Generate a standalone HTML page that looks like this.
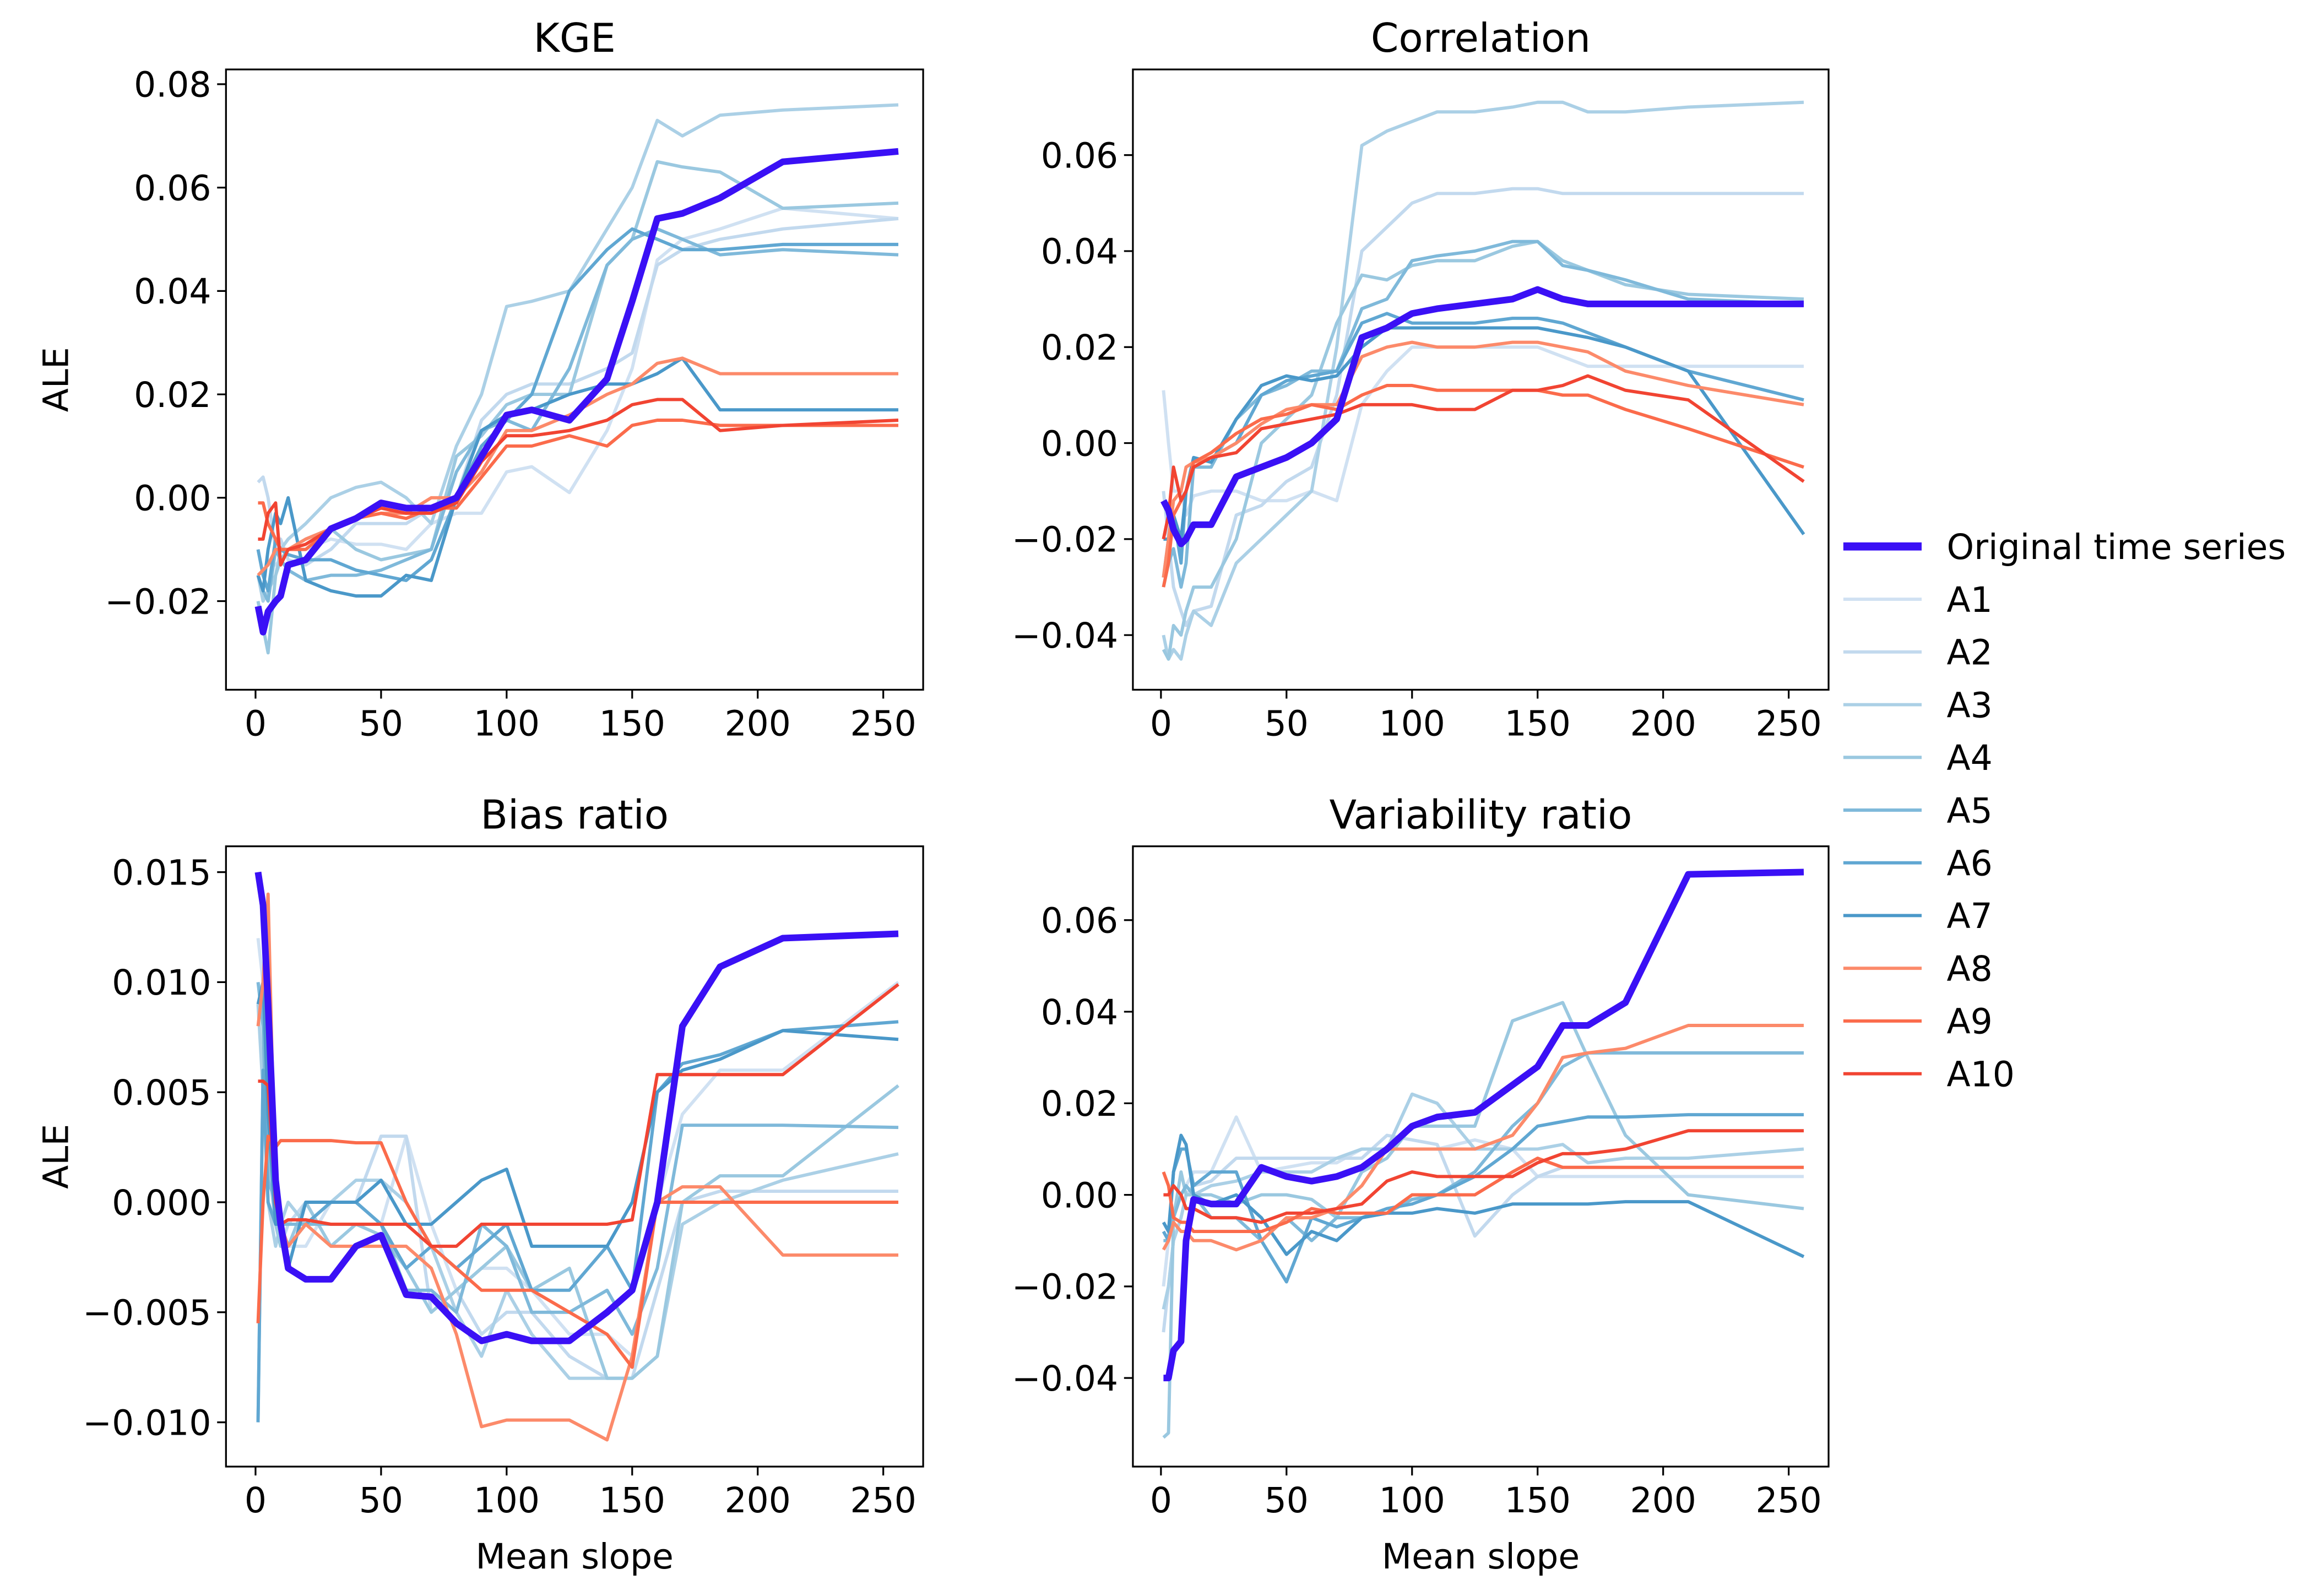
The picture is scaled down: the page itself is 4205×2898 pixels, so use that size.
<!DOCTYPE html>
<html><head><meta charset="utf-8"><style>
html,body{margin:0;padding:0;background:#fff}
svg{display:block}
text{font-family:"DejaVu Sans","Liberation Sans",sans-serif;fill:#000}
</style></head><body>
<svg id="fig" width="4205" height="2898" viewBox="0 0 1568 1080.6" xmlns="http://www.w3.org/2000/svg"></svg>
<script>
const xVals=[1,3,5,8,10,13,20,30,40,50,60,70,80,90,100,110,125,140,150,160,170,185,210,256];
const seriesNames=["A1","A2","A3","A4","A5","A6","A7","A8","A9","A10","Original time series"];
const seriesColors=["#d0e1f2","#c2d9ee","#abd0e6","#9ac8e0","#7fb9da","#60a7d2","#4a98c9","#fc8a6a","#fb6b4b","#f14432","#3a10f5"];
const kgeA1=[-0.01,-0.015,-0.012,-0.013,-0.012,-0.01,-0.01,-0.008,-0.009,-0.009,-0.01,-0.005,-0.003,-0.003,0.005,0.006,0.001,0.013,0.025,0.046,0.05,0.052,0.056,0.054];
const kgeA2=[0.003,0.004,0.0,-0.01,-0.008,-0.012,-0.013,-0.01,-0.005,-0.005,-0.005,-0.002,0.0,0.015,0.02,0.022,0.022,0.025,0.028,0.045,0.048,0.05,0.052,0.054];
const kgeA3=[-0.015,-0.02,-0.018,-0.015,-0.01,-0.008,-0.005,0.0,0.002,0.003,0.0,-0.005,0.01,0.02,0.037,0.038,0.04,0.052,0.06,0.073,0.07,0.074,0.075,0.076];
const kgeA4=[-0.02,-0.025,-0.03,-0.015,-0.012,-0.01,-0.008,-0.006,-0.01,-0.012,-0.011,-0.01,0.008,0.012,0.018,0.02,0.02,0.045,0.05,0.065,0.064,0.063,0.056,0.057];
const kgeA5=[-0.015,-0.018,-0.02,-0.01,-0.012,-0.014,-0.016,-0.015,-0.015,-0.014,-0.012,-0.01,0.005,0.013,0.015,0.013,0.025,0.045,0.05,0.052,0.05,0.047,0.048,0.047];
const kgeA6=[-0.01,-0.015,-0.018,-0.008,-0.01,-0.011,-0.012,-0.012,-0.014,-0.015,-0.016,-0.012,0.0,0.01,0.015,0.02,0.04,0.048,0.052,0.05,0.048,0.048,0.049,0.049];
const kgeA7=[-0.015,-0.018,-0.01,-0.003,-0.005,0.0,-0.016,-0.018,-0.019,-0.019,-0.015,-0.016,0.0,0.013,0.016,0.017,0.02,0.022,0.022,0.024,0.027,0.017,0.017,0.017];
const kgeA8=[-0.015,-0.014,-0.013,-0.01,-0.01,-0.01,-0.008,-0.006,-0.004,-0.003,-0.003,0.0,0.0,0.005,0.013,0.013,0.016,0.02,0.022,0.026,0.027,0.024,0.024,0.024];
const kgeA9=[-0.001,-0.001,-0.005,-0.008,-0.01,-0.01,-0.01,-0.006,-0.004,-0.003,-0.004,-0.002,-0.002,0.004,0.01,0.01,0.012,0.01,0.014,0.015,0.015,0.014,0.014,0.014];
const kgeA10=[-0.008,-0.008,-0.003,-0.001,-0.013,-0.01,-0.009,-0.006,-0.004,-0.002,-0.003,-0.003,-0.001,0.007,0.012,0.012,0.013,0.015,0.018,0.019,0.019,0.013,0.014,0.015];
const kgeOrig=[-0.021,-0.026,-0.022,-0.02,-0.019,-0.013,-0.012,-0.006,-0.004,-0.001,-0.002,-0.002,0.0,0.008,0.016,0.017,0.015,0.023,0.038,0.054,0.055,0.058,0.065,0.067];
const corA1=[0.011,0.0,-0.01,-0.01,-0.015,-0.011,-0.01,-0.01,-0.012,-0.012,-0.01,-0.012,0.008,0.015,0.02,0.02,0.02,0.02,0.02,0.018,0.016,0.016,0.016,0.016];
const corA2=[-0.01,-0.02,-0.03,-0.035,-0.038,-0.035,-0.034,-0.015,-0.013,-0.008,-0.005,0.01,0.04,0.045,0.05,0.052,0.052,0.053,0.053,0.052,0.052,0.052,0.052,0.052];
const corA3=[-0.04,-0.045,-0.043,-0.045,-0.04,-0.035,-0.038,-0.025,-0.02,-0.015,-0.01,0.02,0.062,0.065,0.067,0.069,0.069,0.07,0.071,0.071,0.069,0.069,0.07,0.071];
const corA4=[-0.043,-0.045,-0.038,-0.04,-0.035,-0.03,-0.03,-0.02,0.0,0.005,0.01,0.025,0.035,0.034,0.037,0.038,0.038,0.041,0.042,0.038,0.036,0.033,0.031,0.03];
const corA5=[-0.03,-0.025,-0.022,-0.03,-0.025,-0.005,-0.005,0.005,0.01,0.012,0.015,0.015,0.028,0.03,0.038,0.039,0.04,0.042,0.042,0.037,0.036,0.034,0.03,0.029];
const corA6=[-0.028,-0.02,-0.015,-0.025,-0.01,-0.005,-0.003,0.0,0.01,0.013,0.014,0.015,0.025,0.027,0.025,0.025,0.025,0.026,0.026,0.025,0.023,0.02,0.015,0.009];
const corA7=[-0.02,-0.02,-0.015,-0.02,-0.01,-0.003,-0.004,0.005,0.012,0.014,0.013,0.014,0.02,0.024,0.024,0.024,0.024,0.024,0.024,0.023,0.022,0.02,0.015,-0.019];
const corA8=[-0.028,-0.02,-0.012,-0.01,-0.005,-0.004,-0.003,0.0,0.004,0.007,0.008,0.008,0.018,0.02,0.021,0.02,0.02,0.021,0.021,0.02,0.019,0.015,0.012,0.008];
const corA9=[-0.03,-0.025,-0.015,-0.012,-0.01,-0.004,-0.002,0.002,0.005,0.006,0.008,0.007,0.01,0.012,0.012,0.011,0.011,0.011,0.011,0.01,0.01,0.007,0.003,-0.005];
const corA10=[-0.02,-0.015,-0.005,-0.012,-0.01,-0.005,-0.003,-0.002,0.003,0.004,0.005,0.006,0.008,0.008,0.008,0.007,0.007,0.011,0.011,0.012,0.014,0.011,0.009,-0.008];
const corOrig=[-0.012,-0.014,-0.018,-0.021,-0.02,-0.017,-0.017,-0.007,-0.005,-0.003,0.0,0.005,0.022,0.024,0.027,0.028,0.029,0.030,0.032,0.030,0.029,0.029,0.029,0.029];
const biasA1=[0.012,0.01,0.003,0.0,-0.001,-0.002,-0.002,0.0,0.0,-0.001,0.003,-0.001,-0.004,-0.003,-0.003,-0.004,-0.006,-0.006,-0.007,0.0,0.004,0.006,0.006,0.01];
const biasA2=[0.01,0.009,0.0,-0.001,-0.002,-0.001,0.0,0.0,0.0,0.003,0.003,-0.005,-0.004,-0.006,-0.005,-0.005,-0.007,-0.008,-0.008,-0.004,0.0,0.0005,0.0005,0.0005];
const biasA3=[0.009,0.005,0.0,-0.002,-0.001,0.0,-0.001,0.0,0.001,0.001,0.0,-0.002,-0.005,-0.007,-0.004,-0.006,-0.008,-0.008,-0.008,-0.007,-0.001,0.0,0.001,0.0022];
const biasA4=[-0.01,0.006,0.002,-0.001,-0.002,-0.002,0.0,-0.002,-0.001,-0.0015,-0.003,-0.005,-0.004,-0.003,-0.002,-0.004,-0.003,-0.008,-0.008,-0.007,0.0,0.0012,0.0012,0.0053];
const biasA5=[0.01,0.008,0.001,0.0,-0.001,-0.001,-0.001,-0.001,-0.001,-0.001,-0.004,-0.004,-0.005,-0.001,-0.002,-0.005,-0.005,-0.004,-0.006,-0.003,0.0035,0.0035,0.0035,0.0034];
const biasA6=[-0.01,0.006,0.0,-0.001,-0.001,-0.002,-0.001,0.0,0.0,-0.001,-0.003,-0.002,-0.003,-0.002,-0.001,-0.004,-0.004,-0.002,-0.004,0.005,0.0063,0.0067,0.0078,0.0082];
const biasA7=[0.009,0.01,0.004,-0.001,-0.001,-0.003,0.0,0.0,0.0,0.001,-0.001,-0.001,0.0,0.001,0.0015,-0.002,-0.002,-0.002,0.0,0.005,0.006,0.0065,0.0078,0.0074];
const biasA8=[0.008,0.01,0.014,0.0,-0.001,-0.002,-0.001,-0.002,-0.002,-0.002,-0.002,-0.003,-0.006,-0.0102,-0.0099,-0.0099,-0.0099,-0.0108,-0.007,0.0,0.0007,0.0007,-0.0024,-0.0024];
const biasA9=[-0.0055,0.0,0.003,0.0025,0.0028,0.0028,0.0028,0.0028,0.0027,0.0027,0.0,-0.002,-0.003,-0.004,-0.004,-0.004,-0.005,-0.006,-0.0075,0.0,0.0,0.0,0.0,0.0];
const biasA10=[0.0055,0.0055,0.0053,0.0,-0.001,-0.0008,-0.0008,-0.001,-0.001,-0.001,-0.001,-0.002,-0.002,-0.001,-0.001,-0.001,-0.001,-0.001,-0.0008,0.0058,0.0058,0.0058,0.0058,0.0099];
const biasOrig=[0.015,0.0135,0.009,0.001,-0.001,-0.003,-0.0035,-0.0035,-0.002,-0.0015,-0.0042,-0.0043,-0.0055,-0.0063,-0.006,-0.0063,-0.0063,-0.005,-0.004,0.0,0.008,0.0107,0.012,0.0122];
const varA1=[-0.02,-0.01,-0.005,0.0,0.002,0.005,0.005,0.017,0.005,0.006,0.007,0.007,0.01,0.01,0.01,0.01,0.012,0.01,0.004,0.004,0.004,0.004,0.004,0.004];
const varA2=[-0.03,-0.02,-0.01,-0.005,0.0,0.002,0.003,0.008,0.008,0.008,0.008,0.008,0.008,0.013,0.012,0.011,-0.009,0.0,0.004,0.006,0.006,0.006,0.006,0.006];
const varA3=[-0.025,-0.02,-0.01,-0.005,0.0,0.0,0.002,0.003,0.005,0.005,0.005,0.008,0.01,0.01,0.022,0.02,0.01,0.01,0.01,0.011,0.007,0.008,0.008,0.01];
const varA4=[-0.053,-0.052,-0.005,0.005,0.0,0.0,0.0,-0.002,0.0,0.0,-0.001,-0.005,0.005,0.008,0.015,0.015,0.015,0.038,0.04,0.042,0.03,0.013,0.0,-0.003];
const varA5=[-0.01,-0.01,-0.005,0.0,0.002,0.0,-0.005,-0.005,-0.01,-0.005,-0.01,-0.005,-0.005,-0.004,-0.001,0.0,0.005,0.015,0.02,0.028,0.031,0.031,0.031,0.031];
const varA6=[-0.008,-0.01,0.005,0.01,0.01,0.002,0.005,0.005,-0.01,-0.019,-0.005,-0.007,-0.005,-0.003,-0.002,0.0,0.004,0.01,0.015,0.016,0.017,0.017,0.0175,0.0175];
const varA7=[-0.006,-0.008,0.005,0.013,0.011,0.0,-0.002,0.0,-0.005,-0.013,-0.008,-0.01,-0.005,-0.004,-0.004,-0.003,-0.004,-0.002,-0.002,-0.002,-0.002,-0.0015,-0.0015,-0.0135];
const varA8=[-0.012,-0.01,-0.006,-0.008,-0.008,-0.01,-0.01,-0.012,-0.01,-0.005,-0.005,-0.003,0.002,0.01,0.01,0.01,0.01,0.013,0.02,0.03,0.031,0.032,0.037,0.037];
const varA9=[0.005,0.002,-0.005,-0.006,-0.006,-0.008,-0.008,-0.008,-0.008,-0.006,-0.003,-0.004,-0.004,-0.004,0.0,0.0,0.0,0.005,0.008,0.006,0.006,0.006,0.006,0.006];
const varA10=[0.0,0.0,0.002,0.0,-0.003,-0.003,-0.005,-0.005,-0.006,-0.004,-0.004,-0.003,-0.002,0.003,0.005,0.004,0.004,0.004,0.007,0.009,0.009,0.01,0.014,0.014];
const varOrig=[-0.04,-0.04,-0.034,-0.032,-0.01,-0.001,-0.002,-0.002,0.006,0.004,0.003,0.004,0.006,0.01,0.015,0.017,0.018,0.024,0.028,0.037,0.037,0.042,0.07,0.0705];
const xTicks=[0,50,100,150,200,250];
const kgeTicks=[-0.02,0.00,0.02,0.04,0.06,0.08];
const corTicks=[-0.04,-0.02,0.00,0.02,0.04,0.06];
const biasTicks=[-0.010,-0.005,0.000,0.005,0.010,0.015];
const varTicks=[-0.04,-0.02,0.00,0.02,0.04,0.06];

const NS="http://www.w3.org/2000/svg";
const svg=document.getElementById('fig');
function mk(tag,attrs,parent){const e=document.createElementNS(NS,tag);for(const k in attrs)e.setAttribute(k,attrs[k]);(parent||svg).appendChild(e);return e;}
function fmt(v,d){const s=Math.abs(v).toFixed(d);return (v<-1e-12?'\u2212':'')+s;}
const FS=23.5;

const panels=[
 {name:'kge',title:'KGE',box:[153,47,625,467],x0:173,x1:598,yA:[0.00,337],yB:[-0.02,407],ticks:kgeTicks,dec:2,data:[kgeA1,kgeA2,kgeA3,kgeA4,kgeA5,kgeA6,kgeA7,kgeA8,kgeA9,kgeA10,kgeOrig],ylab:true,xlab:false},
 {name:'correlation',title:'Correlation',box:[767,47,1238,467],x0:786,x1:1211,yA:[0.00,300],yB:[0.06,105],ticks:corTicks,dec:2,data:[corA1,corA2,corA3,corA4,corA5,corA6,corA7,corA8,corA9,corA10,corOrig],ylab:false,xlab:false},
 {name:'bias-ratio',title:'Bias ratio',box:[153,573,625,993],x0:173,x1:598,yA:[0.000,814],yB:[-0.010,963],ticks:biasTicks,dec:3,data:[biasA1,biasA2,biasA3,biasA4,biasA5,biasA6,biasA7,biasA8,biasA9,biasA10,biasOrig],ylab:true,xlab:true},
 {name:'variability-ratio',title:'Variability ratio',box:[767,573,1238,993],x0:786,x1:1211,yA:[0.00,809],yB:[-0.04,933],ticks:varTicks,dec:2,data:[varA1,varA2,varA3,varA4,varA5,varA6,varA7,varA8,varA9,varA10,varOrig],ylab:false,xlab:true}
];

panels.forEach(p=>{
  const g=mk('g',{});
  
  
  const [L,T,R,B]=p.box;
  const xs=v=>p.x0+(v-xTicks[0])*(p.x1-p.x0)/250;
  const ys=v=>p.yA[1]+(v-p.yA[0])*(p.yB[1]-p.yA[1])/(p.yB[0]-p.yA[0]);
  const clip=mk('clipPath',{id:'clip-'+p.name},g);
  mk('rect',{x:L,y:T,width:R-L,height:B-T},clip);
  const lines=mk('g',{'clip-path':'url(#clip-'+p.name+')'},g);
  p.data.forEach((arr,i)=>{
    const d=arr.map((v,j)=>(j?'L':'M')+xs(xVals[j]).toFixed(2)+' '+ys(v).toFixed(2)).join(' ');
    const path=mk('path',{d:d,fill:'none',stroke:seriesColors[i],'stroke-width':i==10?4.5:2.2,'stroke-linejoin':'round'},lines);
    
    
  });
  const frame=mk('rect',{x:L,y:T,width:R-L,height:B-T,fill:'none',stroke:'#000','stroke-width':1.2},g);
  
  
  xTicks.forEach(t=>{
    const x=xs(t);
    mk('line',{x1:x,x2:x,y1:B,y2:B+6,stroke:'#000','stroke-width':1.2},g);
    const tx=mk('text',{x:x,y:B+31,'text-anchor':'middle','font-size':FS},g);
    tx.textContent=t;
    
    
  });
  p.ticks.forEach(t=>{
    const y=ys(t);
    mk('line',{x1:L-6,x2:L,y1:y,y2:y,stroke:'#000','stroke-width':1.2},g);
    const tx=mk('text',{x:L-10,y:y+8.5,'text-anchor':'end','font-size':FS},g);
    tx.textContent=fmt(t,p.dec);
    
    
  });
  const tt=mk('text',{x:(L+R)/2,y:T-12,'text-anchor':'middle','font-size':27},g);
  tt.textContent=p.title;
  
  
  if(p.ylab){
    const yl=mk('text',{x:0,y:0,'text-anchor':'middle','font-size':FS,transform:'translate(46,'+((T+B)/2)+') rotate(-90)'},g);
    yl.textContent='ALE';
    
    
  }
  if(p.xlab){
    const xl=mk('text',{x:(L+R)/2,y:B+69,'text-anchor':'middle','font-size':FS},g);
    xl.textContent='Mean slope';
    
    
  }
});

const leg=mk('g',{});


const order=[10,0,1,2,3,4,5,6,7,8,9];
order.forEach((si,k)=>{
  const y=370+k*35.7;
  const e=mk('g',{},leg);
  
  
  mk('line',{x1:1248,x2:1301,y1:y,y2:y,stroke:seriesColors[si],'stroke-width':si==10?5.5:2.2},e);
  const t=mk('text',{x:1318,y:y+8.5,'font-size':FS},e);
  t.textContent=seriesNames[si];
});
</script>
</body></html>
